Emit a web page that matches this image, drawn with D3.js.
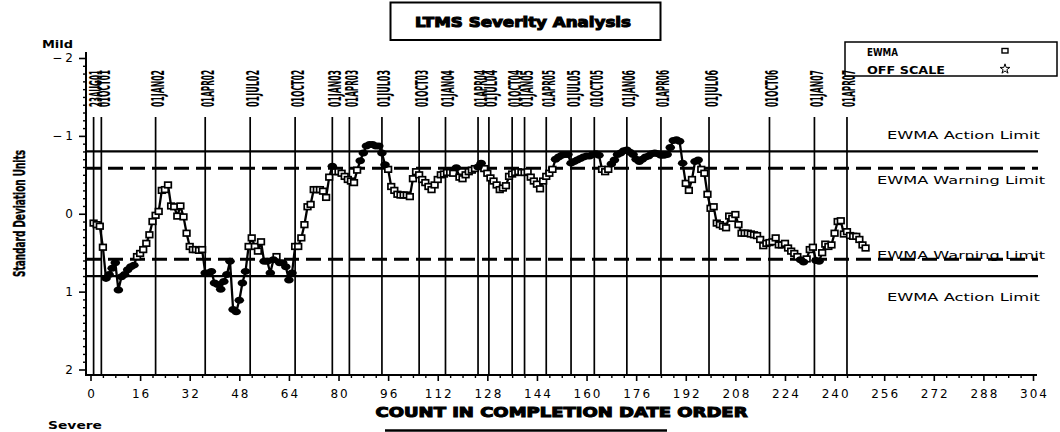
<!DOCTYPE html>
<html>
<head>
<meta charset="utf-8">
<script src="https://cdn.jsdelivr.net/npm/d3@7"></script>
<style>
  html, body { margin: 0; padding: 0; background: #fff; }
  svg { display: block; }
</style>
</head>
<body>
<div id="chart"></div>
<script>
// EWMA severity values, one per test in completion order (count 1..250)
const ewma = [
   0.12,  0.14,  0.16,  0.43,  0.83,  0.78,  0.70,  0.63,  0.98,  0.81,
   0.78,  0.72,  0.68,  0.66,  0.55,  0.51,  0.46,  0.38,  0.27,  0.10,
   0.02, -0.03, -0.30, -0.31, -0.37, -0.10, -0.09,  0.03, -0.10,  0.04,
   0.25,  0.42,  0.46,  0.46,  0.47,  0.46,  0.76,  0.76,  0.74,  0.89,
   0.91,  0.97,  0.87,  0.78,  0.61,  1.23,  1.26,  1.11,  0.89,  0.74,
   0.42,  0.31,  0.42,  0.48,  0.36,  0.61,  0.61,  0.76,  0.59,  0.55,
   0.63,  0.63,  0.68,  0.85,  0.76,  0.42,  0.42,  0.31,  0.14, -0.09,
  -0.12, -0.31, -0.31, -0.31, -0.29, -0.21, -0.47, -0.61, -0.54, -0.54,
  -0.52, -0.48, -0.44, -0.42, -0.40, -0.56, -0.68, -0.78, -0.87, -0.89,
  -0.89, -0.87, -0.87, -0.78, -0.63, -0.57, -0.35, -0.30, -0.25, -0.24,
  -0.24, -0.24, -0.22, -0.45, -0.54, -0.50, -0.44, -0.40, -0.35, -0.31,
  -0.37, -0.44, -0.50, -0.51, -0.53, -0.53, -0.52, -0.59, -0.47, -0.45,
  -0.50, -0.54, -0.56, -0.58, -0.60, -0.65, -0.58, -0.52, -0.46, -0.42,
  -0.37, -0.31, -0.33, -0.36, -0.48, -0.51, -0.53, -0.54, -0.53, -0.53,
  -0.54, -0.47, -0.42, -0.38, -0.32, -0.42, -0.48, -0.52, -0.57, -0.70,
  -0.73, -0.75, -0.76, -0.76, -0.65, -0.67, -0.69, -0.71, -0.73, -0.74,
  -0.74, -0.76, -0.77, -0.75, -0.57, -0.54, -0.57, -0.64, -0.69, -0.76,
  -0.78, -0.81, -0.82, -0.79, -0.76, -0.70, -0.67, -0.70, -0.73, -0.74,
  -0.77, -0.78, -0.77, -0.75, -0.75, -0.76, -0.85, -0.94, -0.95, -0.93,
  -0.65, -0.39, -0.30, -0.44, -0.67, -0.69, -0.57, -0.52, -0.25, -0.07,
  -0.09,  0.12,  0.14,  0.16,  0.18,  0.03,  0.06,  0.01,  0.14,  0.25,
   0.25,  0.25,  0.26,  0.27,  0.28,  0.33,  0.41,  0.38,  0.37,  0.36,
   0.31,  0.40,  0.40,  0.38,  0.44,  0.48,  0.51,  0.55,  0.59,  0.62,
   0.58,  0.46,  0.43,  0.60,  0.61,  0.50,  0.39,  0.42,  0.40,  0.25,
   0.10,  0.09,  0.26,  0.23,  0.28,  0.29,  0.29,  0.33,  0.40,  0.44
];

// calendar reference lines (count position where each date starts)
const dateLabels = ["23AUG01", "01OCT01", "01JAN02", "01APR02", "01JUL02", "01OCT02",
  "01JAN03", "01APR03", "01JUL03", "01OCT03", "01JAN04", "01APR04", "01JUL04",
  "01OCT04", "01JAN05", "01APR05", "01JUL05", "01OCT05", "01JAN06", "01APR06",
  "01JUL06", "01OCT06", "01JAN07", "01APR07"];
const dateCounts = [1, 3.5, 21, 37, 51.5, 66, 78, 83.5, 94, 106, 114.5, 125, 128.5,
  136, 140, 147, 155, 162.5, 173, 184, 199.5, 219, 233.5, 244];

const xTicks = [0, 16, 32, 48, 64, 80, 96, 112, 128, 144, 160, 176, 192, 208, 224, 240, 256, 272, 288, 304];
const yTicks = [-2, -1, 0, 1, 2];

const actionLimit = 0.8;
const warningLimit = 0.585;

const W = 1060, H = 432;
const svg = d3.select("#chart").append("svg")
  .attr("width", W).attr("height", H)
  .attr("font-family", "'DejaVu Sans', sans-serif");

const x = d3.scaleLinear().domain([0, 304]).range([90.5, 1033]);
const y = d3.scaleLinear().domain([-2, 2]).range([58, 369.5]);

const axisX = 86, axisY = 375, plotRight = 1038;

// title box
svg.append("rect").attr("x", 390.5).attr("y", 2.5).attr("width", 270).attr("height", 37.5)
  .attr("fill", "none").attr("stroke", "#000").attr("stroke-width", 2);
svg.append("text").attr("x", 523).attr("y", 26.5).attr("text-anchor", "middle")
  .attr("font-size", 14).attr("font-weight", "bold")
  .attr("stroke", "#000").attr("stroke-width", 1.1)
  .attr("textLength", 216).attr("lengthAdjust", "spacingAndGlyphs")
  .text("LTMS Severity Analysis");

// legend
const lg = svg.append("g");
lg.append("rect").attr("x", 845).attr("y", 42).attr("width", 212).attr("height", 34)
  .attr("fill", "#fff").attr("stroke", "#000").attr("stroke-width", 1.5);
lg.append("text").attr("x", 867).attr("y", 55.5).attr("font-size", 10).attr("font-weight", "bold")
  .attr("textLength", 31).attr("lengthAdjust", "spacingAndGlyphs").text("EWMA");
lg.append("text").attr("x", 867).attr("y", 73.5).attr("font-size", 10).attr("font-weight", "bold")
  .attr("textLength", 78).attr("lengthAdjust", "spacingAndGlyphs").text("OFF SCALE");
lg.append("rect").attr("x", 1002).attr("y", 48.5).attr("width", 6).attr("height", 4.5)
  .attr("fill", "#fff").attr("stroke", "#000").attr("stroke-width", 1.4);
lg.append("path").attr("d", d3.symbol(d3.symbolStar, 30)())
  .attr("transform", "translate(1005,69)")
  .attr("fill", "none").attr("stroke", "#000").attr("stroke-width", 1);

// date reference lines and labels
const dates = svg.append("g");
dates.selectAll("line").data(dateCounts).join("line")
  .attr("x1", d => x(d)).attr("x2", d => x(d))
  .attr("y1", 117).attr("y2", axisY)
  .attr("stroke", "#000").attr("stroke-width", 1.7);
dates.selectAll("text").data(dateLabels).join("text")
  .attr("transform", (d, i) => `translate(${x(dateCounts[i]) + 8.5},107) rotate(-90)`)
  .attr("font-size", 18).attr("font-weight", "bold")
  .attr("font-family", "'DejaVu Sans Condensed', 'DejaVu Sans', sans-serif")
  .attr("textLength", 37).attr("lengthAdjust", "spacingAndGlyphs")
  .text(d => d);

// limit lines
const limits = [
  { v: -actionLimit, dash: null, w: 2.2 },
  { v: -warningLimit, dash: "15,7", w: 3 },
  { v: warningLimit, dash: "15,7", w: 3 },
  { v: actionLimit, dash: null, w: 2.2 }
];
svg.append("g").selectAll("line").data(limits).join("line")
  .attr("x1", axisX).attr("x2", plotRight)
  .attr("y1", d => y(d.v)).attr("y2", d => y(d.v))
  .attr("stroke", "#000").attr("stroke-width", d => d.w)
  .attr("stroke-dasharray", d => d.dash);

// limit labels on the right
const limitText = [
  { t: "EWMA Action Limit", x0: 887, len: 153, yc: 135 },
  { t: "EWMA Warning Limit", x0: 877, len: 168, yc: 180 },
  { t: "EWMA Warning Limit", x0: 877, len: 168, yc: 255 },
  { t: "EWMA Action Limit", x0: 887, len: 153, yc: 297 }
];
svg.append("g").selectAll("text").data(limitText).join("text")
  .attr("x", d => d.x0).attr("y", d => d.yc + 4)
  .attr("font-size", 11).attr("font-weight", 500)
  .attr("textLength", d => d.len).attr("lengthAdjust", "spacingAndGlyphs")
  .text(d => d.t);

// EWMA series
const pts = ewma.map((v, i) => ({ c: i + 1, v }));
svg.append("path").datum(pts)
  .attr("fill", "none").attr("stroke", "#000").attr("stroke-width", 2.3)
  .attr("stroke-linejoin", "round")
  .attr("d", d3.line().x(d => x(d.c)).y(d => y(d.v)));

const inside = pts.filter(d => Math.abs(d.v) <= warningLimit);
const outside = pts.filter(d => Math.abs(d.v) > warningLimit);
svg.append("g").selectAll("rect").data(inside).join("rect")
  .attr("x", d => x(d.c) - 3.3).attr("y", d => y(d.v) - 2.8)
  .attr("width", 6.6).attr("height", 5.6)
  .attr("fill", "#fff").attr("stroke", "#000").attr("stroke-width", 1.7);
svg.append("g").selectAll("ellipse").data(outside).join("ellipse")
  .attr("cx", d => x(d.c)).attr("cy", d => y(d.v))
  .attr("rx", 4.8).attr("ry", 3.5).attr("fill", "#000");

// axes
const tickFont = g => g.selectAll("text")
  .attr("font-family", "'DejaVu Sans', sans-serif").attr("font-size", 12)
  .attr("fill", "#000").attr("letter-spacing", 2);

const gx = svg.append("g").attr("transform", `translate(0,${axisY})`);
gx.call(d3.axisBottom(x).tickValues(xTicks).tickSize(6).tickPadding(8).tickFormat(d => d))
  .call(g => g.select(".domain").remove())
  .call(tickFont)
  .call(g => g.selectAll("text").attr("dx", 1))
  .call(g => g.selectAll("line").attr("stroke", "#000").attr("stroke-width", 1.6));
svg.append("g").attr("transform", `translate(0,${axisY})`)
  .call(d3.axisBottom(x).tickValues(d3.range(0, 305, 4).filter(d => d % 16)).tickSize(3).tickFormat(""))
  .call(g => g.select(".domain").remove())
  .call(g => g.selectAll("line").attr("stroke", "#000").attr("stroke-width", 1.4));

const gy = svg.append("g").attr("transform", `translate(${axisX},0)`);
gy.call(d3.axisLeft(y).tickValues(yTicks).tickSize(7).tickPadding(6)
    .tickFormat(d => d < 0 ? "\u2212" + (-d) : d))
  .call(g => g.select(".domain").remove())
  .call(tickFont)
  .call(g => g.selectAll("text").attr("letter-spacing", 3).attr("dx", 3))
  .call(g => g.selectAll("line").attr("stroke", "#000").attr("stroke-width", 1.6));
svg.append("g").attr("transform", `translate(${axisX},0)`)
  .call(d3.axisLeft(y).tickValues(d3.range(-20, 21).filter(d => d % 10).map(d => d / 10)).tickSize(3).tickFormat(""))
  .call(g => g.select(".domain").remove())
  .call(g => g.selectAll("line").attr("stroke", "#000").attr("stroke-width", 1.4));

svg.append("path")
  .attr("d", `M${axisX},52V${axisY}H1037`)
  .attr("fill", "none").attr("stroke", "#000").attr("stroke-width", 2);

// axis titles
svg.append("text").attr("x", 42).attr("y", 48).attr("font-size", 11).attr("font-weight", "bold")
  .attr("textLength", 31).attr("lengthAdjust", "spacingAndGlyphs").text("Mild");
svg.append("text").attr("x", 48).attr("y", 429).attr("font-size", 11).attr("font-weight", "bold")
  .attr("textLength", 54).attr("lengthAdjust", "spacingAndGlyphs").text("Severe");

svg.append("text").attr("transform", "translate(24.5,213.5) rotate(-90)")
  .attr("text-anchor", "middle").attr("font-size", 16).attr("font-weight", "bold")
  .attr("font-family", "'DejaVu Sans Condensed', 'DejaVu Sans', sans-serif")
  .attr("stroke", "#000").attr("stroke-width", 0.4)
  .attr("textLength", 127).attr("lengthAdjust", "spacingAndGlyphs")
  .text("Standard Deviation Units");

svg.append("text").attr("x", 561.5).attr("y", 417).attr("text-anchor", "middle")
  .attr("font-size", 14.5).attr("font-weight", "bold")
  .attr("stroke", "#000").attr("stroke-width", 1.1)
  .attr("textLength", 372).attr("lengthAdjust", "spacingAndGlyphs")
  .text("COUNT IN COMPLETION DATE ORDER");
svg.append("line").attr("x1", 385).attr("x2", 667).attr("y1", 430.5).attr("y2", 430.5)
  .attr("stroke", "#000").attr("stroke-width", 2.5);
</script>
</body>
</html>
